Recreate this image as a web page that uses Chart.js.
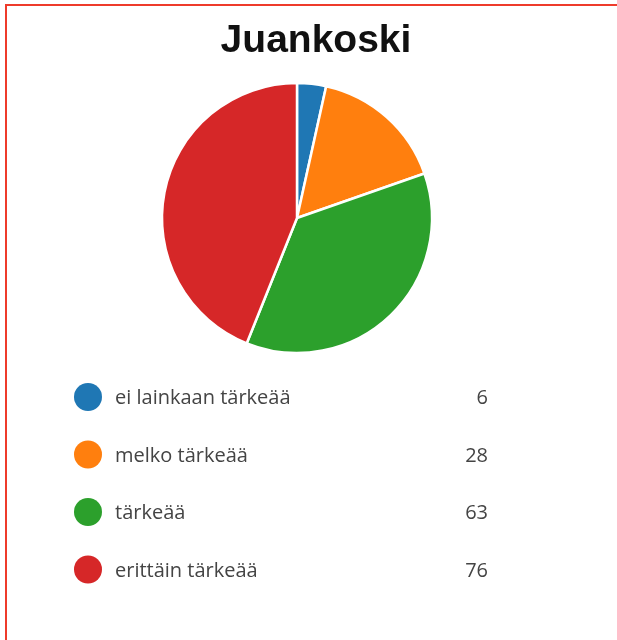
<!DOCTYPE html>
<html>
<head>
<meta charset="utf-8">
<script src="https://cdn.jsdelivr.net/npm/chart.js@4/dist/chart.umd.min.js"></script>
<style>
  html, body { margin: 0; padding: 0; background: #fff; overflow: hidden; }
  #wrap { position: relative; width: 617px; height: 640px; }
  #frame {
    position: absolute; left: 5px; top: 4px; width: 700px; height: 700px;
    border-top: 2px solid #ee3b2b; border-left: 2px solid #ee3b2b;
    box-sizing: border-box; pointer-events: none;
  }
  canvas { position: absolute; left: 0; top: 0; }
</style>
</head>
<body>
<div id="wrap">
  <canvas id="pie" width="617" height="640"></canvas>
  <div id="frame"></div>
</div>
<script>
// Juankoski - pie chart with value legend

const chartTitle = 'Juankoski';
const categories = ['ei lainkaan tärkeää', 'melko tärkeää', 'tärkeää', 'erittäin tärkeää'];
const counts = [6, 28, 63, 76];
const colors = ['#1f77b4', '#ff7f0e', '#2ca02c', '#d62728'];

// title + legend rows drawn after the pie
const sideLegend = {
    id: 'sideLegend',
    afterDraw(chart) {
        const ctx = chart.ctx;
        ctx.save();

        ctx.fillStyle = '#111';
        ctx.font = 'bold 39px "Liberation Sans", Arial, sans-serif';
        ctx.textAlign = 'center';
        ctx.textBaseline = 'alphabetic';
        ctx.fillText(chartTitle, 316, 52);

        const meta = chart.getDatasetMeta(0);
        categories.forEach((label, i) => {
            const y = 397 + i * 57.5;
            const style = meta.controller.getStyle(i);
            ctx.beginPath();
            ctx.arc(88, y, 14, 0, Math.PI * 2);
            ctx.fillStyle = style.backgroundColor;
            ctx.fill();

            ctx.fillStyle = '#444';
            ctx.font = '20px "Open Sans", "Noto Sans", sans-serif';
            ctx.textBaseline = 'alphabetic';
            ctx.textAlign = 'left';
            ctx.fillText(label, 115, y + 7);
            ctx.textAlign = 'right';
            ctx.fillText(String(chart.data.datasets[0].data[i]), 488, y + 7);
        });
        ctx.restore();
    }
};

const ctx = document.getElementById('pie').getContext('2d');
new Chart(ctx, {
    type: 'pie',
    data: {
        labels: categories,
        datasets: [{
            data: counts,
            backgroundColor: colors,
            borderColor: '#ffffff',
            borderWidth: 2.5
        }]
    },
    options: {
        responsive: false,
        animation: false,
        radius: 135,
        layout: {
            padding: { left: 162, right: 185, top: 83, bottom: 287 }
        },
        plugins: {
            legend: { display: false },
            title: { display: false },
            tooltip: { enabled: false }
        }
    },
    plugins: [sideLegend]
});
</script>
</body>
</html>
